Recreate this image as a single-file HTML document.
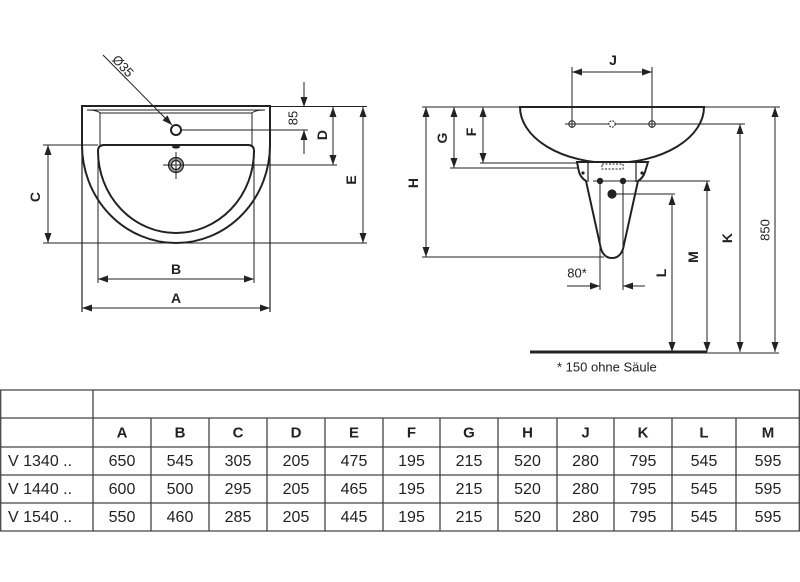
<!DOCTYPE html>
<html><head><meta charset="utf-8"><style>
html,body{margin:0;padding:0;background:#fff;}
svg{display:block;}
text{font-family:"Liberation Sans",Arial,sans-serif;fill:#222;}
.b{font-weight:bold;font-size:14px;}
.n{font-size:13px;}
.t{font-size:16px;}
.h{font-size:15px;font-weight:bold;}
</style></head><body>
<svg width="800" height="582" viewBox="0 0 800 582" xmlns="http://www.w3.org/2000/svg">
<defs>
<marker id="a" markerWidth="10" markerHeight="7" refX="10" refY="3.5" orient="auto-start-reverse" markerUnits="userSpaceOnUse"><path d="M0,0 L10,3.5 L0,7 Z" fill="#222"/></marker>
</defs>
<rect width="800" height="582" fill="#fff"/>

<!-- LEFT DRAWING -->
<g fill="none" stroke="#222">
<path d="M82,106 L270,106 L270,145 A94,98 0 0 1 82,145 Z" stroke-width="2"/>
<line x1="82" y1="106" x2="82" y2="312" stroke-width="1.2"/>
<line x1="270" y1="106" x2="270" y2="312" stroke-width="1.2"/>
<path d="M104,145 L248,145 Q254,145 254,151 A78,82 0 0 1 98,151 Q98,145 104,145 Z" stroke-width="2"/>
<line x1="98" y1="151" x2="98" y2="283" stroke-width="1"/>
<line x1="254" y1="151" x2="254" y2="283" stroke-width="1"/>
<!-- rim -->
<path d="M87,110 L265,110 M100,113 L252,113 M87,110 Q97,110 100,113 M265,110 Q255,110 252,113" stroke-width="1"/>
<line x1="100" y1="113" x2="100" y2="145" stroke-width="1"/>
<line x1="252" y1="113" x2="252" y2="145" stroke-width="1"/>
<!-- extension lines -->
<line x1="270" y1="106.5" x2="367" y2="106.5" stroke-width="1"/>
<line x1="181" y1="130" x2="308" y2="130" stroke-width="1"/>
<line x1="163" y1="165" x2="337" y2="165" stroke-width="1"/>
<line x1="176" y1="152" x2="176" y2="179" stroke-width="1"/>
<line x1="43" y1="145" x2="98" y2="145" stroke-width="1"/>
<line x1="43" y1="243" x2="367" y2="243" stroke-width="1"/>
<!-- dimensions -->
<line x1="48" y1="145" x2="48" y2="243" stroke-width="1" marker-start="url(#a)" marker-end="url(#a)"/>
<line x1="98" y1="279" x2="254" y2="279" stroke-width="1" marker-start="url(#a)" marker-end="url(#a)"/>
<line x1="82" y1="308" x2="270" y2="308" stroke-width="1" marker-start="url(#a)" marker-end="url(#a)"/>
<line x1="333" y1="107" x2="333" y2="165" stroke-width="1" marker-start="url(#a)" marker-end="url(#a)"/>
<line x1="363" y1="107" x2="363" y2="243" stroke-width="1" marker-start="url(#a)" marker-end="url(#a)"/>
<line x1="304" y1="82" x2="304" y2="107" stroke-width="1" marker-end="url(#a)"/>
<line x1="304" y1="154" x2="304" y2="130" stroke-width="1" marker-end="url(#a)"/>
<line x1="103" y1="55" x2="172" y2="125" stroke-width="1" marker-end="url(#a)"/>
</g>
<!-- tap hole, drain -->
<circle cx="176" cy="130" r="5" fill="#fff" stroke="#222" stroke-width="2"/>
<circle cx="176" cy="165" r="7.5" fill="#999" stroke="#222" stroke-width="1.2"/>
<circle cx="176" cy="165" r="4.5" fill="#fff" stroke="#222" stroke-width="1.2"/>
<line x1="163" y1="165" x2="189" y2="165" stroke="#222" stroke-width="1"/>
<line x1="176" y1="152" x2="176" y2="179" stroke="#222" stroke-width="1"/>
<ellipse cx="176" cy="147" rx="4" ry="1.6" fill="#222"/>
<!-- left labels -->
<text class="b" x="35" y="197" text-anchor="middle" dominant-baseline="central" transform="rotate(-90 35 197)">C</text>
<text class="b" x="176" y="269" text-anchor="middle" dominant-baseline="central">B</text>
<text class="b" x="176" y="298" text-anchor="middle" dominant-baseline="central">A</text>
<text class="b" x="322" y="135" text-anchor="middle" dominant-baseline="central" transform="rotate(-90 322 135)">D</text>
<text class="b" x="351" y="180" text-anchor="middle" dominant-baseline="central" transform="rotate(-90 351 180)">E</text>
<text class="n" x="293" y="118" text-anchor="middle" dominant-baseline="central" transform="rotate(-90 293 118)">85</text>
<text class="n" x="123" y="66" text-anchor="middle" dominant-baseline="central" transform="rotate(47 123 66)">Ø35</text>

<!-- RIGHT DRAWING -->
<g fill="none" stroke="#222">
<line x1="422" y1="107" x2="780" y2="107" stroke-width="1"/>
<path d="M520,107 L704,107 A92,56 0 0 1 520,107 Z" fill="#fff" stroke-width="2"/>
<line x1="565" y1="124" x2="745" y2="124" stroke-width="1"/>
<line x1="572" y1="67" x2="572" y2="128" stroke-width="1"/>
<line x1="652" y1="67" x2="652" y2="128" stroke-width="1"/>
<line x1="572" y1="72" x2="652" y2="72" stroke-width="1" marker-start="url(#a)" marker-end="url(#a)"/>
<circle cx="572" cy="124" r="3.2" stroke-width="1"/>
<circle cx="612" cy="124" r="3.2" stroke-width="1" stroke-dasharray="2 1" fill="#fff"/>
<circle cx="652" cy="124" r="3.2" stroke-width="1"/>
<!-- G F H -->
<line x1="450" y1="168" x2="580" y2="168" stroke-width="1"/>
<line x1="480" y1="163" x2="578" y2="163" stroke-width="1"/>
<line x1="422" y1="257" x2="604" y2="257" stroke-width="1"/>
<line x1="426" y1="107" x2="426" y2="257" stroke-width="1" marker-start="url(#a)" marker-end="url(#a)"/>
<line x1="454" y1="107" x2="454" y2="168" stroke-width="1" marker-start="url(#a)" marker-end="url(#a)"/>
<line x1="483" y1="107" x2="483" y2="163" stroke-width="1" marker-start="url(#a)" marker-end="url(#a)"/>
<!-- pedestal -->
<path d="M577,162 L579,172 Q581,178 586,181 L601,249 Q604,258 612,258 Q620,258 623,249 L638,181 Q643,178 645,172 L648,162 Z" fill="#fff" stroke-width="2"/>
<line x1="588" y1="162" x2="588" y2="182" stroke-width="1.2"/>
<line x1="636" y1="162" x2="636" y2="182" stroke-width="1.2"/>
<rect x="602" y="164" width="21" height="5" stroke-width="1" stroke-dasharray="2 1.5"/>
<line x1="593" y1="181" x2="710" y2="181" stroke-width="1"/>
<line x1="612" y1="194" x2="675" y2="194" stroke-width="1"/>
<line x1="600" y1="181" x2="600" y2="290" stroke-width="1"/>
<line x1="623" y1="181" x2="623" y2="290" stroke-width="1"/>
<line x1="567" y1="286" x2="600" y2="286" stroke-width="1" marker-end="url(#a)"/>
<line x1="645" y1="286" x2="623" y2="286" stroke-width="1" marker-end="url(#a)"/>
<!-- L M K 850 -->
<line x1="672" y1="195" x2="672" y2="352" stroke-width="1" marker-start="url(#a)" marker-end="url(#a)"/>
<line x1="707" y1="181" x2="707" y2="352" stroke-width="1" marker-start="url(#a)" marker-end="url(#a)"/>
<line x1="740" y1="124" x2="740" y2="352" stroke-width="1" marker-start="url(#a)" marker-end="url(#a)"/>
<line x1="775" y1="107" x2="775" y2="352" stroke-width="1" marker-start="url(#a)" marker-end="url(#a)"/>
<line x1="705" y1="353" x2="779" y2="353" stroke-width="1"/>
<line x1="530" y1="352" x2="707" y2="352" stroke-width="3"/>
</g>
<circle cx="583" cy="173" r="1.6" fill="#222"/>
<circle cx="642" cy="173" r="1.6" fill="#222"/>
<circle cx="600" cy="181" r="3.2" fill="#222"/>
<circle cx="623" cy="181" r="3.2" fill="#222"/>
<circle cx="612" cy="194" r="4.6" fill="#222"/>
<!-- right labels -->
<text class="b" x="613" y="60" text-anchor="middle" dominant-baseline="central">J</text>
<text class="b" x="442" y="138" text-anchor="middle" dominant-baseline="central" transform="rotate(-90 442 138)">G</text>
<text class="b" x="471" y="132" text-anchor="middle" dominant-baseline="central" transform="rotate(-90 471 132)">F</text>
<text class="b" x="413" y="183" text-anchor="middle" dominant-baseline="central" transform="rotate(-90 413 183)">H</text>
<text class="b" x="661" y="273" text-anchor="middle" dominant-baseline="central" transform="rotate(-90 661 273)">L</text>
<text class="b" x="693" y="257" text-anchor="middle" dominant-baseline="central" transform="rotate(-90 693 257)">M</text>
<text class="b" x="727" y="238" text-anchor="middle" dominant-baseline="central" transform="rotate(-90 727 238)">K</text>
<text class="n" x="765" y="230" text-anchor="middle" dominant-baseline="central" transform="rotate(-90 765 230)">850</text>
<text class="n" x="577" y="273" text-anchor="middle" dominant-baseline="central">80*</text>
<text class="n" x="557" y="367" dominant-baseline="central">* 150 ohne Säule</text>

<!-- TABLE -->
<g stroke="#444" stroke-width="1.3" fill="none">
<line x1="0" y1="390" x2="800" y2="390"/>
<line x1="0" y1="418" x2="800" y2="418"/>
<line x1="0" y1="447" x2="800" y2="447"/>
<line x1="0" y1="475" x2="800" y2="475"/>
<line x1="0" y1="503" x2="800" y2="503"/>
<line x1="0" y1="531" x2="800" y2="531"/>
<line x1="0.7" y1="390" x2="0.7" y2="531"/>
<line x1="799.3" y1="390" x2="799.3" y2="531"/>
<line x1="93" y1="390" x2="93" y2="531"/>
<line x1="151" y1="418" x2="151" y2="531"/>
<line x1="209" y1="418" x2="209" y2="531"/>
<line x1="267" y1="418" x2="267" y2="531"/>
<line x1="325" y1="418" x2="325" y2="531"/>
<line x1="383" y1="418" x2="383" y2="531"/>
<line x1="440" y1="418" x2="440" y2="531"/>
<line x1="498" y1="418" x2="498" y2="531"/>
<line x1="557" y1="418" x2="557" y2="531"/>
<line x1="614" y1="418" x2="614" y2="531"/>
<line x1="672" y1="418" x2="672" y2="531"/>
<line x1="736" y1="418" x2="736" y2="531"/>
</g>
<g class="h" text-anchor="middle" dominant-baseline="central">
<text class="h" x="122" y="433">A</text><text class="h" x="180" y="433">B</text><text class="h" x="238" y="433">C</text><text class="h" x="296" y="433">D</text><text class="h" x="354" y="433">E</text><text class="h" x="411.5" y="433">F</text><text class="h" x="469" y="433">G</text><text class="h" x="527.5" y="433">H</text><text class="h" x="585.5" y="433">J</text><text class="h" x="643" y="433">K</text><text class="h" x="704" y="433">L</text><text class="h" x="768" y="433">M</text>
</g>
<g text-anchor="middle" dominant-baseline="central">
<text class="t" x="8" y="461.5" text-anchor="start">V 1340 ..</text>
<text class="t" x="122" y="461.5">650</text><text class="t" x="180" y="461.5">545</text><text class="t" x="238" y="461.5">305</text><text class="t" x="296" y="461.5">205</text><text class="t" x="354" y="461.5">475</text><text class="t" x="411.5" y="461.5">195</text><text class="t" x="469" y="461.5">215</text><text class="t" x="527.5" y="461.5">520</text><text class="t" x="585.5" y="461.5">280</text><text class="t" x="643" y="461.5">795</text><text class="t" x="704" y="461.5">545</text><text class="t" x="768" y="461.5">595</text>
<text class="t" x="8" y="489.5" text-anchor="start">V 1440 ..</text>
<text class="t" x="122" y="489.5">600</text><text class="t" x="180" y="489.5">500</text><text class="t" x="238" y="489.5">295</text><text class="t" x="296" y="489.5">205</text><text class="t" x="354" y="489.5">465</text><text class="t" x="411.5" y="489.5">195</text><text class="t" x="469" y="489.5">215</text><text class="t" x="527.5" y="489.5">520</text><text class="t" x="585.5" y="489.5">280</text><text class="t" x="643" y="489.5">795</text><text class="t" x="704" y="489.5">545</text><text class="t" x="768" y="489.5">595</text>
<text class="t" x="8" y="517.5" text-anchor="start">V 1540 ..</text>
<text class="t" x="122" y="517.5">550</text><text class="t" x="180" y="517.5">460</text><text class="t" x="238" y="517.5">285</text><text class="t" x="296" y="517.5">205</text><text class="t" x="354" y="517.5">445</text><text class="t" x="411.5" y="517.5">195</text><text class="t" x="469" y="517.5">215</text><text class="t" x="527.5" y="517.5">520</text><text class="t" x="585.5" y="517.5">280</text><text class="t" x="643" y="517.5">795</text><text class="t" x="704" y="517.5">545</text><text class="t" x="768" y="517.5">595</text>
</g>
</svg>
</body></html>
